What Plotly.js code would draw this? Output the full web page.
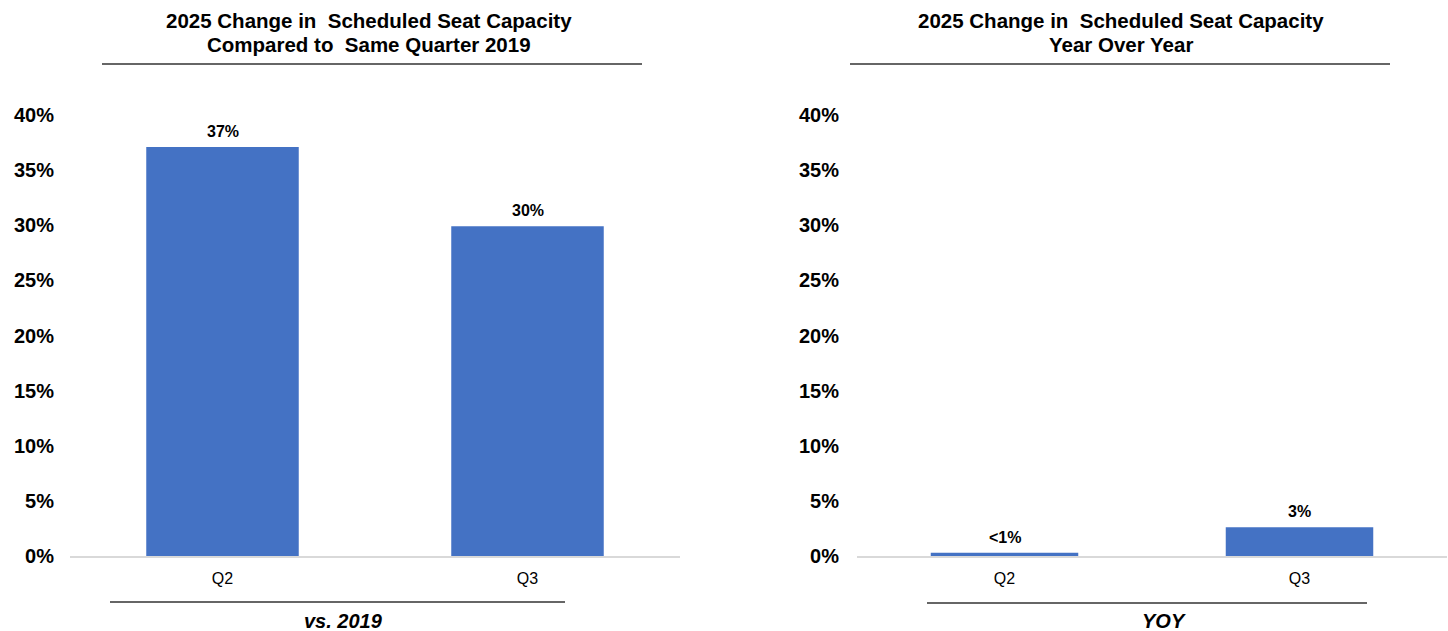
<!DOCTYPE html>
<html>
<head>
<meta charset="utf-8">
<script src="https://cdn.plot.ly/plotly-3.0.1.min.js"></script>
<style>html,body{margin:0;padding:0;background:#fff;}#chart{width:1448px;height:631px;}</style>
</head>
<body>
<div id="chart"></div>
<script>
// ---- data ----
const categories = ['Q2', 'Q3'];
const vs2019Values = [37.1, 29.9];
const vs2019Labels = ['37%', '30%'];
const yoyValues = [0.3, 2.6];
const yoyLabels = ['<1%', '3%'];
const yTickVals = [0, 5, 10, 15, 20, 25, 30, 35, 40];
const yTickText = ['0%', '5%', '10%', '15%', '20%', '25%', '30%', '35%', '40%'];
const leftTitle = ['2025 Change in  Scheduled Seat Capacity', 'Compared to  Same Quarter 2019'];
const rightTitle = ['2025 Change in  Scheduled Seat Capacity', 'Year Over Year'];
const leftFooter = 'vs. 2019';
const rightFooter = 'YOY';

// ---- layout helpers ----
const W = 1448, H = 631;
const px = v => v / W;
const py = v => 1 - v / H;
const FONT = 'Liberation Sans, Arial, sans-serif';
const BLUE = '#4472C4';

const traces = [
  {type: 'bar', x: categories, y: vs2019Values, xaxis: 'x', yaxis: 'y',
   marker: {color: BLUE}, hoverinfo: 'skip'},
  {type: 'bar', x: categories, y: yoyValues, xaxis: 'x2', yaxis: 'y2',
   marker: {color: BLUE}, hoverinfo: 'skip'}
];

function yAxis(anchor, standoff) {
  return {
    domain: [1 - 556 / H, 1 - 115 / H], range: [0, 40], anchor: anchor,
    tickvals: yTickVals, ticktext: yTickText, showgrid: false, zeroline: false,
    showline: false, ticks: '', ticklabelstandoff: standoff,
    tickfont: {family: FONT, size: 20, color: '#000', weight: 'bold'}
  };
}
function xAxis(d0, d1, anchor) {
  return {
    domain: [px(d0), px(d1)], anchor: anchor, type: 'category',
    showgrid: false, zeroline: false, showline: true, linecolor: '#d9d9d9', linewidth: 2,
    ticks: '', ticklabelstandoff: 7,
    tickfont: {family: FONT, size: 16, color: '#000'}
  };
}

const annotations = [];
function addBarLabels(vals, labels, xr, yr) {
  categories.forEach((c, i) => {
    annotations.push({x: c, y: vals[i], xref: xr, yref: yr, text: labels[i],
      showarrow: false, yanchor: 'bottom', yshift: 5,
      font: {family: FONT, size: 16, color: '#000', weight: 'bold'}});
  });
}
addBarLabels(vs2019Values, vs2019Labels, 'x', 'y');
addBarLabels(yoyValues, yoyLabels, 'x2', 'y2');

function addTitle(lines, cx) {
  [21, 45].forEach((yy, i) => {
    annotations.push({x: px(cx), y: py(yy), xref: 'paper', yref: 'paper', text: '<b>' + lines[i] + '</b>',
      showarrow: false, xanchor: 'center', yanchor: 'middle',
      font: {family: FONT, size: 20.5, color: '#000'}});
  });
}
addTitle(leftTitle, 369);
addTitle(rightTitle, 1121);

function addFooter(t, cx) {
  annotations.push({x: px(cx), y: py(621), xref: 'paper', yref: 'paper', text: '<b><i>' + t + '</i></b>',
    showarrow: false, xanchor: 'center', yanchor: 'middle',
    font: {family: FONT, size: 20, color: '#000'}});
}
addFooter(leftFooter, 343);
addFooter(rightFooter, 1164);

const rule = (x0, x1, y) => ({type: 'line', xref: 'paper', yref: 'paper',
  x0: px(x0), x1: px(x1), y0: py(y), y1: py(y), line: {color: '#333', width: 1.5}});

const layout = {
  width: W, height: H, margin: {l: 0, r: 0, t: 0, b: 0},
  paper_bgcolor: '#fff', plot_bgcolor: '#fff', showlegend: false, bargap: 0.5,
  xaxis: xAxis(70, 680, 'y'), yaxis: yAxis('x', 15),
  xaxis2: xAxis(857, 1447, 'y2'), yaxis2: yAxis('x2', 17),
  annotations: annotations,
  shapes: [rule(102, 642, 64), rule(850, 1390, 64), rule(110, 565, 602), rule(927, 1367, 603)]
};

Plotly.newPlot('chart', traces, layout, {staticPlot: true, displayModeBar: false});
</script>
</body>
</html>
